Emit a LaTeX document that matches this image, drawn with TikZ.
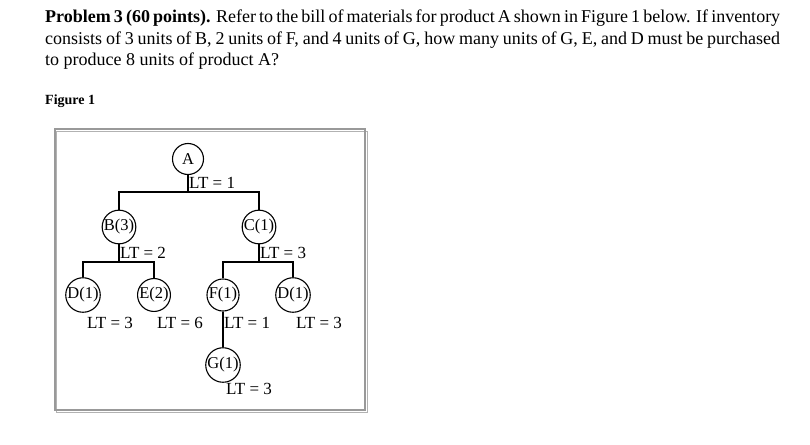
\documentclass[tikz,border=0pt]{standalone}
\usepackage{fontspec}
\setmainfont{Liberation Serif}
\begin{document}
\begin{tikzpicture}[x=1pt,y=-1pt,
  item/.style={circle,draw,line width=1.1pt,minimum size=31pt,inner sep=0pt,font=\fontsize{16.5}{16.5}\selectfont},
  conn/.style={line width=1.6pt},
  lt/.style={font=\fontsize{17}{17}\selectfont,inner sep=0pt}]
\useasboundingbox (0,0) rectangle (810,444);
\node[anchor=north west,inner sep=0pt,text width=735pt,align=justify,font=\fontsize{18}{21.3}\selectfont] (txt) at (45,10)
 {\textbf{Problem 3 (60 points).} Refer to the bill of materials for product A shown in Figure 1 below. If inventory consists of 3 units of B, 2 units of F, and 4 units of G, how many units of G, E, and D must be purchased to produce 8 units of product A?};
\node[anchor=west,inner sep=0pt,font=\bfseries\fontsize{14}{14}\selectfont] (fig) at (45,101) {Figure 1};
\draw[gray!60,line width=1pt] (56,131) rectangle (367,412);
\draw[gray!80,line width=1.5pt] (55,129) rectangle (365,410);
\node[item] (A) at (188,159) {A};
\node[item] (B) at (119,227) {B(3)};
\node[item] (C) at (259,227) {C(1)};
\node[item] (D1) at (83,295) {D(1)};
\node[item] (E) at (154,295) {E(2)};
\node[item] (F) at (223,295) {F(1)};
\node[item] (D2) at (293,295) {D(1)};
\node[item] (G) at (223,365) {G(1)};
\coordinate (a1) at (188,192);
\coordinate (b1) at (119,262);
\coordinate (c1) at (259,262);
\draw[conn] (A.south) -- (a1) -| (B.north);
\draw[conn] (a1) -| (C.north);
\draw[conn] (B.south) -- (b1) -| (D1.north);
\draw[conn] (b1) -| (E.north);
\draw[conn] (C.south) -- (c1) -| (F.north);
\draw[conn] (c1) -| (D2.north);
\draw[conn] (F.south) -- (G.north);
\node[lt,anchor=west] (l1) at (189,183) {LT = 1};
\node[lt,anchor=west] (l2) at (120,253) {LT = 2};
\node[lt,anchor=west] (l3) at (260,253) {LT = 3};
\node[lt] (l4) at (110,323) {LT = 3};
\node[lt] (l5) at (180,323) {LT = 6};
\node[lt,anchor=west] (l6) at (224,323) {LT = 1};
\node[lt] (l7) at (319,323) {LT = 3};
\node[lt] (l8) at (249,389) {LT = 3};
\end{tikzpicture}
\end{document}
